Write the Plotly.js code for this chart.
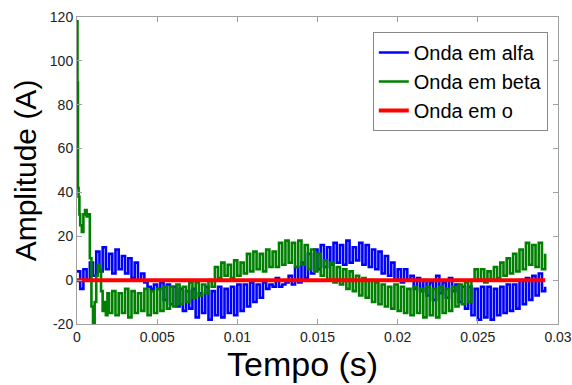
<!DOCTYPE html>
<html>
<head>
<meta charset="utf-8">
<script src="https://cdn.plot.ly/plotly-3.0.1.min.js"></script>
<style>html,body{margin:0;padding:0;background:#fff;}#chart{width:572px;height:385px;}</style>
</head>
<body>
<div id="chart"></div>
<script>
// sampling step of the recorded waveforms (s)
const sampleStep = 0.0002;

// Onda em alfa (A), one value per sample from t = 0
const alphaValues = [
  4,-4,5,0,8,2,13,4,15,5,
  12,3,14,5,11,3,10,1,8,0,
  3,-1,-3,-4,-2,-4,-1,-9,-2,-11,
  -3,-12,-4,-14,-5,-13,-4,-17,-6,-15,
  -3,-18,-5,-16,-3,-17,-4,-15,-3,-16,
  -2,-14,-2,-12,-1,-10,-2,-8,-1,-4,
  -2,-3,1,-3,-2,-1,2,-2,6,-1,
  8,1,12,3,14,5,16,6,15,7,
  17,8,16,7,18,8,15,9,17,7,
  16,6,14,5,13,3,11,2,8,0,
  5,-1,5,0,2,-4,1,-5,0,-7,
  -1,-9,2,-6,-1,-8,1,-5,-2,-10,
  -3,-13,-3,-16,-4,-18,-3,-17,-3,-18,
  -4,-16,-3,-15,-2,-14,-2,-13,0,-11,
  1,-9,2,-7,3,-5,-3
];

// Onda em beta: initial transient (t < 0.002 s)
const betaHeadTime = [0,0.00003,0.00006,0.0001,0.00015,0.0002,0.0003,0.0004,0.0005,0.0006,0.0007,0.0008,0.0009,0.001,0.0011,0.0012,0.0013,0.0014,0.0015,0.0016,0.0017,0.0018,0.0019];
const betaHeadValues = [118,90,42,38,30,25,22,30,32,29,30,10,-12,-20,-10,2,7,5,-5,-14,-10,-16,-6];
// Onda em beta: samples from t = 0.002 s (sample index 10) onwards
const betaStartIndex = 10;
const betaValues = [
  -15,-5,-16,-6,-15,-4,-17,-5,-15,-6,
  -14,-4,-16,-5,-15,-4,-14,-3,-13,-3,
  -12,-2,-11,-3,-10,-1,-8,-1,-7,-2,
  -6,0,-3,6,1,8,2,7,1,9,
  2,8,3,12,4,13,5,12,4,14,
  6,13,6,17,7,18,8,17,6,18,
  7,16,5,14,4,12,2,9,0,8,
  -1,6,-2,5,-4,4,-5,2,-7,1,
  -8,0,-10,-1,-11,-2,-12,-3,-13,-2,
  -14,-3,-15,-4,-16,-3,-15,-4,-17,-3,
  -16,-4,-17,-3,-15,-4,-14,-3,-12,-2,
  -11,-1,-10,0,5,0,5,-1,4,0,
  6,1,8,2,10,3,12,4,14,5,
  17,7,16,6,17,5,12
];

// Onda em o
const oTime = [0, 0.0292];
const oValues = [0, 0];

// axis ticks
const xTickVals = [0,0.005,0.01,0.015,0.02,0.025,0.03];
const xTickText = ["0","0.005","0.01","0.015","0.02","0.025","0.03"];
const yTickVals = [-20,0,20,40,60,80,100,120];
const yTickText = ["-20","0","20","40","60","80","100","120"];

const seriesNames = ["Onda em alfa","Onda em beta","Onda em o"];
const seriesColors = ["#0000ff","#008000","#ff0000"];
const xTitle = "Tempo (s)";
const yTitle = "Amplitude (A)";

const alphaTime = alphaValues.map((_, i) => +(i * sampleStep).toFixed(6));
const betaTime = betaHeadTime.concat(betaValues.map((_, i) => +((i + betaStartIndex) * sampleStep).toFixed(6)));
const betaAll = betaHeadValues.concat(betaValues);

const font = "Liberation Sans, Arial, Helvetica, sans-serif";

const traces = [
  {x: alphaTime, y: alphaValues, name: seriesNames[0], type: "scatter", mode: "lines",
   line: {color: seriesColors[0], width: 2.6, shape: "hv"}},
  {x: betaTime, y: betaAll, name: seriesNames[1], type: "scatter", mode: "lines",
   line: {color: seriesColors[1], width: 2.6, shape: "hv"}},
  {x: oTime, y: oValues, name: seriesNames[2], type: "scatter", mode: "lines",
   line: {color: seriesColors[2], width: 4}}
];

const axisCommon = {
  showgrid: false, zeroline: false, showline: true, mirror: "ticks",
  linecolor: "#a0a0a0", linewidth: 1, ticks: "inside", ticklen: 5,
  tickcolor: "#a0a0a0", tickfont: {family: font, size: 14, color: "#222"},
  tickmode: "array"
};

const layout = {
  width: 572, height: 385,
  margin: {l: 77, r: 14, t: 17, b: 61},
  paper_bgcolor: "#fff", plot_bgcolor: "#fff",
  showlegend: true,
  legend: {x: 0.615, y: 0.951, xanchor: "left", yanchor: "top",
    bgcolor: "#fff", bordercolor: "#888", borderwidth: 1,
    font: {family: font, size: 20, color: "#000"}, tracegroupgap: 0},
  xaxis: Object.assign({}, axisCommon, {range: [0, 0.03], tickvals: xTickVals, ticktext: xTickText}),
  yaxis: Object.assign({}, axisCommon, {range: [-20, 120], tickvals: yTickVals, ticktext: yTickText,
    title: {text: yTitle, font: {family: font, size: 30, color: "#000"}, standoff: 4}}),
  annotations: [
    {text: xTitle, xref: "paper", yref: "paper", x: 0.468, y: -0.13, xanchor: "center", yanchor: "middle",
     showarrow: false, font: {family: font, size: 34, color: "#000"}}
  ]
};

Plotly.newPlot("chart", traces, layout, {displayModeBar: false, staticPlot: true});
</script>
</body>
</html>
